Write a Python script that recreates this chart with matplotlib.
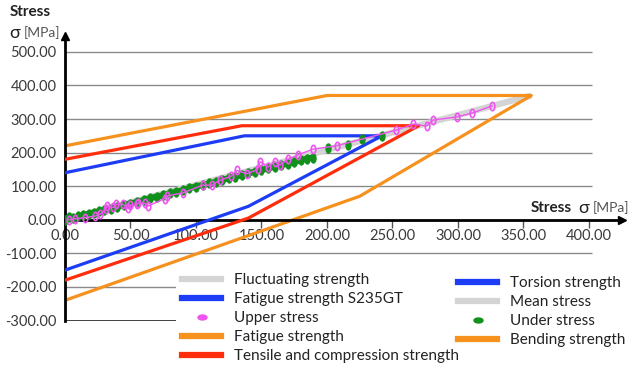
import numpy as np
import matplotlib
matplotlib.use('Agg')
import matplotlib.pyplot as plt
from matplotlib.path import Path
from matplotlib.transforms import Affine2D
from matplotlib.lines import Line2D
from matplotlib.ticker import FormatStrFormatter

plt.rcParams['font.family'] = ['Lato', 'DejaVu Sans']

# strength lines (mean stress, limit stress) in MPa
bending_x = [0, 200, 356, 225, 0]
bending_y = [220, 370, 370, 70, -240]
tensile_x = [0, 135, 270, 140, 0]
tensile_y = [180, 280, 280, 5, -180]
torsion_x = [0, 137, 242, 140, 0]
torsion_y = [140, 250, 250, 40, -150]
mean_x = [0, 356]
mean_y = [0, 370]

# measured stresses
upper_x = [3, 8, 15, 23, 27, 31, 32, 37, 39, 44, 48, 50, 55, 56, 61, 63, 76, 78, 90,
           105, 112, 118, 127, 131, 139, 147, 149, 155, 160, 164, 170, 178, 189,
           208, 253, 266, 276, 281, 299, 311, 326]
upper_y = [0, 3, 6, 11, 17, 31, 40, 37, 46, 46, 34, 43, 46, 49, 49, 40, 63, 71, 80,
           103, 103, 117, 130, 147, 137, 150, 173, 157, 173, 163, 180, 193, 210,
           221, 267, 285, 279, 297, 306, 318, 339]
under_x = [0, 3, 6, 10, 14, 18, 22, 26, 30, 35, 40, 45, 50, 55, 60, 65, 70, 75, 80, 85,
           90, 95, 100, 105, 110, 115, 120, 125, 130, 135, 140, 145, 150, 155, 160,
           165, 170, 175, 180, 185, 189, 201, 216, 227, 242]
under_y = [0, 8, 4, 10, 13, 18, 21, 25, 29, 33, 38, 44, 48, 53, 58, 64, 69, 73, 79, 83,
           88, 94, 99, 103, 108, 113, 118, 124, 128, 133, 138, 143, 148, 153, 158,
           163, 167, 172, 177, 182, 185, 213, 224, 239, 248]
n_dense = 41

y_ticks = [-300, -200, -100, 0, 100, 200, 300, 400, 500]
x_ticks = [0, 50, 100, 150, 200, 250, 300, 350, 400]

c_orange = '#f7911e'
c_red = '#ff2d0c'
c_blue = '#1c3cf5'
c_gray = '#d4d4d4'
c_mag = '#ee55ee'
c_green = '#12901c'
c_text = '#3a3a3a'

circ = Path.unit_circle()
tall = circ.transformed(Affine2D().scale(0.55, 1.0))
wide = circ.transformed(Affine2D().scale(1.0, 0.55))

fig = plt.figure(figsize=(6.28, 3.67), dpi=100)
ax = fig.add_axes([0.1035, 0.1267, 0.8865, 0.7741])
ax.set_xlim(0, 425)
ax.set_ylim(-300, 546)

# grid
ax.hlines([y for y in y_ticks if y not in (0, -300)], 0, 402, color='#8a8a8a', lw=1, zorder=0)
ax.hlines(-300, 0, 402, color='#333333', lw=1.3, zorder=0)

ax.plot(mean_x, mean_y, color=c_gray, lw=4.5, zorder=1, solid_capstyle='butt')
ax.plot(bending_x, bending_y, color=c_orange, lw=2.3, zorder=2)
ax.plot(tensile_x, tensile_y, color=c_red, lw=2.3, zorder=3)
ax.plot(torsion_x, torsion_y, color=c_blue, lw=2.3, zorder=4)

ax.plot(under_x[:n_dense], under_y[:n_dense], color=c_green, lw=4.5, zorder=5)
ax.plot(under_x, under_y, ls='none', marker=tall, ms=6.5, color=c_green, zorder=5)
ax.plot(upper_x, upper_y, color=c_mag, lw=1, zorder=6)
ax.plot(upper_x, upper_y, ls='none', marker=tall, ms=6, mfc='none', mec=c_mag,
        mew=1.2, zorder=6)

# axes
for s in ['top', 'right']:
    ax.spines[s].set_visible(False)
ax.spines['bottom'].set_position(('data', 0))
ax.spines['bottom'].set_linewidth(2)
ax.spines['left'].set_linewidth(2)
ax.plot([425], [0], marker='>', ms=6, color='black', clip_on=False, zorder=10)
ax.plot([0], [546], marker='^', ms=6, color='black', clip_on=False, zorder=10)

ax.set_xticks(x_ticks)
ax.set_yticks(y_ticks)
ax.xaxis.set_major_formatter(FormatStrFormatter('%.2f'))
ax.yaxis.set_major_formatter(FormatStrFormatter('%.2f'))
ax.tick_params(axis='x', length=6, width=1, color='#555555', pad=1,
               labelsize=10.5, labelcolor=c_text)
ax.tick_params(axis='y', length=0, pad=6, labelsize=10.5, labelcolor=c_text)

# axis titles
fig.text(10 / 628, 1 - 12 / 367, 'Stress', fontsize=11, fontweight='bold',
         color='#222222', va='center')
fig.text(9 / 628, 1 - 33 / 367, 'σ', fontsize=13, color='#222222', va='center')
fig.text(24 / 628, 1 - 33 / 367, '[MPa]', fontsize=10, color='#555555', va='center')
fig.text(531 / 628, 1 - 208 / 367, 'Stress', fontsize=11, fontweight='bold',
         color='#222222', va='center')
fig.text(578 / 628, 1 - 208 / 367, 'σ', fontsize=13, color='#222222', va='center')
fig.text(593 / 628, 1 - 208 / 367, '[MPa]', fontsize=10, color='#555555', va='center')

# legends
left_h = [Line2D([], [], color=c_gray, lw=4.5),
          Line2D([], [], color=c_blue, lw=4.5),
          Line2D([], [], ls='none', marker=wide, ms=6.5, color=c_mag),
          Line2D([], [], color=c_orange, lw=4.5),
          Line2D([], [], color=c_red, lw=4.5)]
left_l = ['Fluctuating strength', 'Fatigue strength S235GT', 'Upper stress',
          'Fatigue strength', 'Tensile and compression strength']
right_h = [Line2D([], [], color=c_blue, lw=4.5),
           Line2D([], [], color=c_gray, lw=4.5),
           Line2D([], [], ls='none', marker=wide, ms=6.5, color=c_green),
           Line2D([], [], color=c_orange, lw=4.5)]
right_l = ['Torsion strength', 'Mean stress', 'Under stress', 'Bending strength']

kw = dict(loc='upper left', fontsize=11, handlelength=2.55, handletextpad=0.85,
          labelspacing=0.33, borderaxespad=0, framealpha=1,
          edgecolor='none', facecolor='white', fancybox=False)
leg1 = fig.legend(left_h, left_l, bbox_to_anchor=(176 / 628, 1 - 267 / 367),
                  borderpad=0.4, **kw)
leg2 = fig.legend(right_h, right_l, bbox_to_anchor=(456.5 / 628, 1 - 274.5 / 367),
                  borderpad=0.1, **kw)
leg1.set_zorder(20)
leg2.set_zorder(21)
for leg in (leg1, leg2):
    for t in leg.get_texts():
        t.set_color('#222222')

fig.savefig('out.png', dpi=100)
